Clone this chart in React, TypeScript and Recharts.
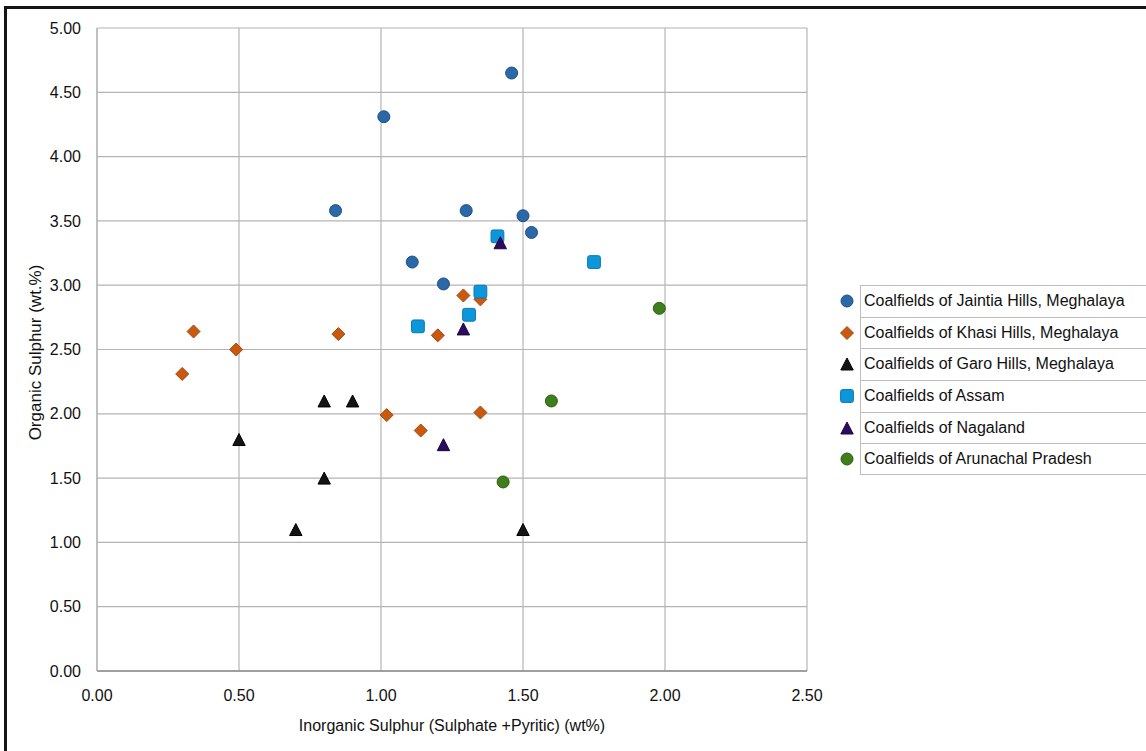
import React from "react";
import {
  ScatterChart,
  Scatter,
  XAxis,
  YAxis,
  CartesianGrid,
} from "recharts";

// ---- data ----
const jaintia = [
  { x: 1.46, y: 4.65 },
  { x: 1.01, y: 4.31 },
  { x: 0.84, y: 3.58 },
  { x: 1.3, y: 3.58 },
  { x: 1.5, y: 3.54 },
  { x: 1.53, y: 3.41 },
  { x: 1.11, y: 3.18 },
  { x: 1.22, y: 3.01 },
];
const khasi = [
  { x: 0.34, y: 2.64 },
  { x: 0.49, y: 2.5 },
  { x: 0.3, y: 2.31 },
  { x: 0.85, y: 2.62 },
  { x: 1.2, y: 2.61 },
  { x: 1.29, y: 2.92 },
  { x: 1.35, y: 2.89 },
  { x: 1.02, y: 1.99 },
  { x: 1.35, y: 2.01 },
  { x: 1.14, y: 1.87 },
];
const garo = [
  { x: 0.8, y: 2.1 },
  { x: 0.9, y: 2.1 },
  { x: 0.5, y: 1.8 },
  { x: 0.8, y: 1.5 },
  { x: 0.7, y: 1.1 },
  { x: 1.5, y: 1.1 },
];
const assam = [
  { x: 1.41, y: 3.38 },
  { x: 1.75, y: 3.18 },
  { x: 1.35, y: 2.95 },
  { x: 1.31, y: 2.77 },
  { x: 1.13, y: 2.68 },
];
const nagaland = [
  { x: 1.42, y: 3.33 },
  { x: 1.29, y: 2.66 },
  { x: 1.22, y: 1.76 },
];
const arunachal = [
  { x: 1.98, y: 2.82 },
  { x: 1.6, y: 2.1 },
  { x: 1.43, y: 1.47 },
];

const xTicks = [0, 0.5, 1, 1.5, 2, 2.5];
const yTicks = [0, 0.5, 1, 1.5, 2, 2.5, 3, 3.5, 4, 4.5, 5];

const seriesNames = [
  "Coalfields of Jaintia Hills, Meghalaya",
  "Coalfields of Khasi Hills, Meghalaya",
  "Coalfields of Garo Hills, Meghalaya",
  "Coalfields of Assam",
  "Coalfields of Nagaland",
  "Coalfields of Arunachal Pradesh",
];

const xTitle = "Inorganic Sulphur (Sulphate +Pyritic) (wt%)";
const yTitle = "Organic Sulphur (wt.%)";

const FONT = '"Liberation Sans", Arial, sans-serif';

type Kind = "circle" | "diamond" | "triangle" | "square";

const styles: { kind: Kind; fill: string; stroke: string }[] = [
  { kind: "circle", fill: "#2B68A8", stroke: "#1E4F86" },
  { kind: "diamond", fill: "#C8590F", stroke: "#A8480A" },
  { kind: "triangle", fill: "#141414", stroke: "#000000" },
  { kind: "square", fill: "#0B97D9", stroke: "#0A78B5" },
  { kind: "triangle", fill: "#2C0B5E", stroke: "#1A0540" },
  { kind: "circle", fill: "#3E7E1D", stroke: "#2C5E12" },
];

function Marker({ kind, fill, stroke, cx, cy }: { kind: Kind; fill: string; stroke: string; cx: number; cy: number }) {
  if (kind === "circle") {
    return <circle cx={cx} cy={cy} r={6} fill={fill} stroke={stroke} strokeWidth={1} />;
  }
  if (kind === "diamond") {
    const s = 6.5;
    return (
      <path
        d={`M${cx},${cy - s}L${cx + s},${cy}L${cx},${cy + s}L${cx - s},${cy}Z`}
        fill={fill}
        stroke={stroke}
        strokeWidth={1}
        strokeLinejoin="round"
      />
    );
  }
  if (kind === "triangle") {
    const h = 6;
    const w = 6.2;
    return (
      <path
        d={`M${cx},${cy - h}L${cx + w},${cy + h}L${cx - w},${cy + h}Z`}
        fill={fill}
        stroke={stroke}
        strokeWidth={1}
        strokeLinejoin="round"
      />
    );
  }
  const s = 6.4;
  return (
    <rect x={cx - s} y={cy - s} width={2 * s} height={2 * s} rx={2} fill={fill} stroke={stroke} strokeWidth={1} />
  );
}

const makeShape = (i: number) => (props: any) => {
  const { cx, cy } = props;
  if (cx == null || cy == null) return <g />;
  return <Marker {...styles[i]} cx={cx} cy={cy} />;
};

const allSeries = [jaintia, khasi, garo, assam, nagaland, arunachal];

function YTitle(props: any) {
  const vb = props.viewBox || { x: 0, y: 0, width: 0, height: 0 };
  const x = vb.x + 35;
  const y = vb.y + vb.height / 2 + 3;
  return (
    <text
      x={x}
      y={y}
      transform={`rotate(-90, ${x}, ${y})`}
      textAnchor="middle"
      dominantBaseline="central"
      fontFamily={FONT}
      fontSize={17}
      fill="#111"
    >
      {yTitle}
    </text>
  );
}

function XTitle(props: any) {
  const vb = props.viewBox || { x: 0, y: 0, width: 0, height: 0 };
  return (
    <text
      x={vb.x + vb.width / 2}
      y={vb.y + 60}
      textAnchor="middle"
      fontFamily={FONT}
      fontSize={16}
      fill="#111"
    >
      {xTitle}
    </text>
  );
}

function LegendBox() {
  return (
    <div style={{ position: "absolute", left: 836, top: 285, width: 310 }}>
      {seriesNames.map((name, i) => (
        <div key={name} style={{ position: "relative", height: 31.7 }}>
          <svg width={20} height={20} style={{ position: "absolute", left: 1, top: 6 }}>
            <Marker {...styles[i]} cx={10} cy={10} />
          </svg>
          <div
            style={{
              position: "absolute",
              left: 24,
              top: 0,
              right: 0,
              height: 31.7,
              borderTop: "1.5px solid #BDBDBD",
              borderLeft: "1.5px solid #BDBDBD",
              borderBottom: i === seriesNames.length - 1 ? "1.5px solid #BDBDBD" : "none",
              boxSizing: "border-box",
              fontFamily: FONT,
              fontSize: 16,
              color: "#111",
              lineHeight: "30px",
              paddingLeft: 3,
              whiteSpace: "nowrap",
            }}
          >
            {name}
          </div>
        </div>
      ))}
    </div>
  );
}

export default function App() {
  return (
    <div
      style={{
        position: "absolute",
        left: 0,
        top: 0,
        width: 1146,
        height: 751,
        background: "#fff",
        overflow: "hidden",
      }}
    >
      <ScatterChart
        width={1146}
        height={751}
        margin={{ top: 28, right: 339, bottom: 0, left: 0 }}
      >
        <CartesianGrid stroke="#B4B4B4" strokeWidth={1.2} horizontal vertical />
        <XAxis
          type="number"
          dataKey="x"
          domain={[0, 2.5]}
          ticks={xTicks}
          height={80}
          tickLine={false}
          tickSize={0}
          tickMargin={19}
          axisLine={{ stroke: "#8C8C8C", strokeWidth: 1.5 }}
          tick={{ fontFamily: FONT, fontSize: 16, fill: "#111" }}
          tickFormatter={(v: number) => v.toFixed(2)}
          allowDataOverflow
          label={<XTitle />}
        />
        <YAxis
          type="number"
          dataKey="y"
          domain={[0, 5]}
          ticks={yTicks}
          width={97}
          tickLine={false}
          tickSize={0}
          tickMargin={16}
          axisLine={{ stroke: "#B4B4B4", strokeWidth: 1.2 }}
          tick={{ fontFamily: FONT, fontSize: 16, fill: "#111" }}
          tickFormatter={(v: number) => v.toFixed(2)}
          allowDataOverflow
          label={<YTitle />}
        />
        {allSeries.map((data, i) => (
          <Scatter
            key={seriesNames[i]}
            name={seriesNames[i]}
            data={data}
            shape={makeShape(i)}
            isAnimationActive={false}
          />
        ))}
      </ScatterChart>
      <LegendBox />
      <div
        style={{
          position: "absolute",
          left: 4,
          top: 6,
          width: 1150,
          height: 760,
          borderTop: "3px solid #151515",
          borderLeft: "3px solid #151515",
          pointerEvents: "none",
        }}
      />
    </div>
  );
}
